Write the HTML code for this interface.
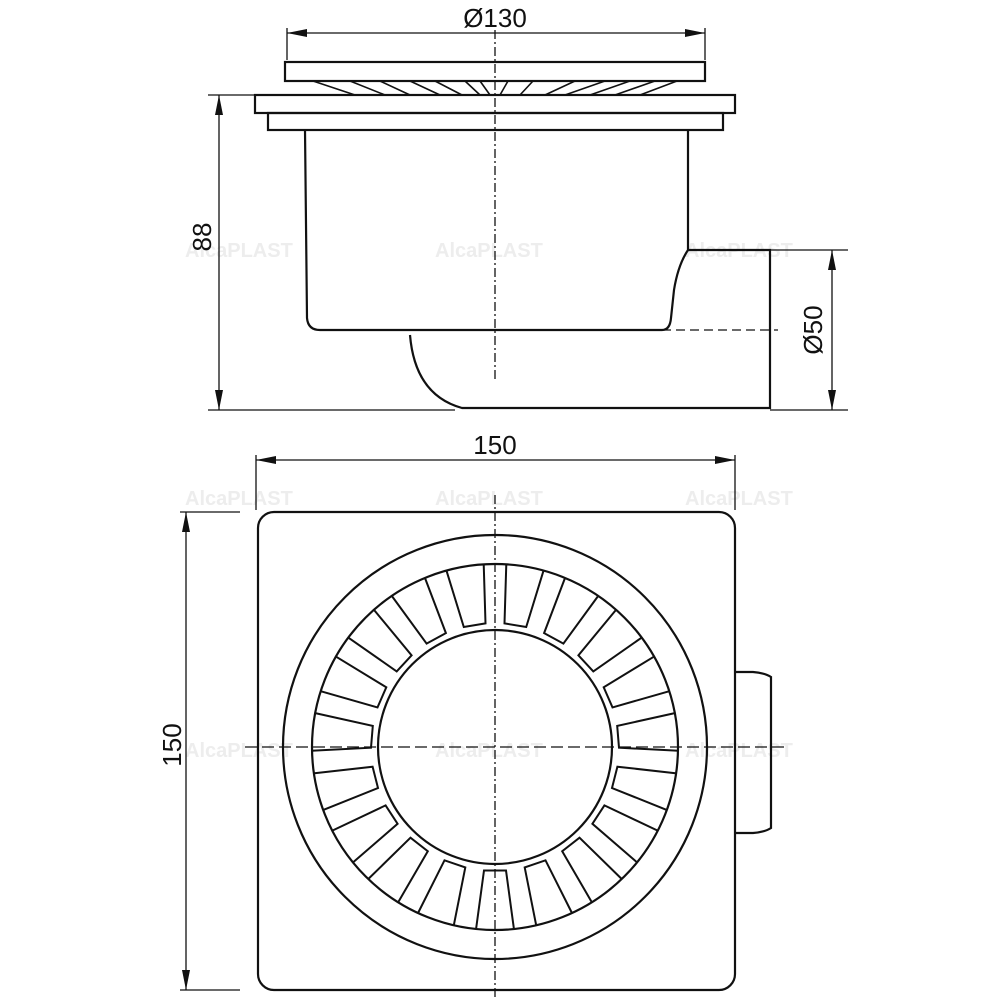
<!DOCTYPE html>
<html><head><meta charset="utf-8"><style>
html,body{margin:0;padding:0;background:#fff;}
svg{display:block;}
text{font-family:"Liberation Sans",Arial,sans-serif;fill:#111;}
text.wm{fill:#ededed;font-size:20px;font-weight:bold;}
</style></head><body>
<svg id="s" width="1000" height="1000" viewBox="0 0 1000 1000" xmlns="http://www.w3.org/2000/svg">
<defs>
<marker id="a" viewBox="0 0 20 8" refX="20" refY="4" markerWidth="20" markerHeight="8" markerUnits="userSpaceOnUse" orient="auto-start-reverse"><path d="M0,0 L20,4 L0,8 z" fill="#111"/></marker>
</defs>
<!-- watermarks -->
<text class="wm" x="185" y="257">AlcaPLAST</text><text class="wm" x="435" y="257">AlcaPLAST</text><text class="wm" x="685" y="257">AlcaPLAST</text>
<text class="wm" x="185" y="505">AlcaPLAST</text><text class="wm" x="435" y="505">AlcaPLAST</text><text class="wm" x="685" y="505">AlcaPLAST</text>
<text class="wm" x="185" y="757">AlcaPLAST</text><text class="wm" x="435" y="757">AlcaPLAST</text><text class="wm" x="685" y="757">AlcaPLAST</text>
<g fill="none" stroke="#111" stroke-width="2.2">
<!-- Ø130 -->
<line x1="287" y1="28" x2="287" y2="60" stroke-width="1.3"/>
<line x1="705" y1="28" x2="705" y2="60" stroke-width="1.3"/>
<line x1="287" y1="33" x2="705" y2="33" stroke-width="1.3" marker-start="url(#a)" marker-end="url(#a)"/>
<!-- grate plate -->
<rect x="285" y="62" width="420" height="19"/>
<!-- fins -->
<g stroke-width="1.6">
<path d="M313,81 L355,95 M640,95 L677,81"/>
<path d="M350,81 L385,95 M380,81 L410,95 M410,81 L440,95 M435,81 L462,95 M465,81 L480,95 M480,81 L490,95"/>
<path d="M500,95 L508,81 M520,95 L533,81 M545,95 L575,81 M565,95 L605,81 M590,95 L630,81 M615,95 L655,81"/>
</g>
<!-- flange -->
<rect x="255" y="95" width="480" height="18"/>
<rect x="268" y="113" width="455" height="17"/>
<!-- body -->
<path d="M305,130 L307,318 Q308,330 320,330 L662,330 Q670,330 671,318 L674,290 Q678,265 688,250 L688,130"/>
<path d="M688,250 L770,250 L770,408 L462,408 Q415,395 410,335"/>
<line x1="662" y1="330" x2="778" y2="330" stroke-width="1.3" stroke-dasharray="9,5"/>
<line x1="495" y1="30" x2="495" y2="380" stroke-width="1.3" stroke-dasharray="9,3,2,3"/>
<!-- 88 -->
<line x1="208" y1="95" x2="255" y2="95" stroke-width="1.3"/>
<line x1="208" y1="410" x2="455" y2="410" stroke-width="1.3"/>
<line x1="219" y1="95" x2="219" y2="410" stroke-width="1.3" marker-start="url(#a)" marker-end="url(#a)"/>
<!-- Ø50 -->
<line x1="770" y1="250" x2="848" y2="250" stroke-width="1.3"/>
<line x1="770" y1="410" x2="848" y2="410" stroke-width="1.3"/>
<line x1="832" y1="250" x2="832" y2="410" stroke-width="1.3" marker-start="url(#a)" marker-end="url(#a)"/>
<!-- 150 horizontal -->
<line x1="256" y1="455" x2="256" y2="510" stroke-width="1.3"/>
<line x1="735" y1="455" x2="735" y2="510" stroke-width="1.3"/>
<line x1="256" y1="460" x2="735" y2="460" stroke-width="1.3" marker-start="url(#a)" marker-end="url(#a)"/>
<!-- 150 vertical -->
<line x1="180" y1="512" x2="240" y2="512" stroke-width="1.3"/>
<line x1="180" y1="990" x2="240" y2="990" stroke-width="1.3"/>
<line x1="186" y1="512" x2="186" y2="990" stroke-width="1.3" marker-start="url(#a)" marker-end="url(#a)"/>
<!-- square -->
<rect x="258" y="512" width="477" height="478" rx="16"/>
<path d="M735,672 L753,672 Q765,673 771,677 L771,828 Q765,832 753,833 L735,833"/>
<circle cx="495" cy="747" r="212"/>
<circle cx="495" cy="747" r="183"/>
<circle cx="495" cy="747" r="117"/>
<g id="slots" stroke-width="2"></g>
<line x1="495" y1="495" x2="495" y2="1000" stroke-width="1.3" stroke-dasharray="9,3,2,3"/>
<line x1="245" y1="747" x2="785" y2="747" stroke-width="1.3" stroke-dasharray="12,5"/>
</g>
<text x="495" y="27" font-size="26" text-anchor="middle">Ø130</text>
<text x="495" y="454" font-size="26" text-anchor="middle">150</text>
<text transform="translate(211,237) rotate(-90)" font-size="26" text-anchor="middle">88</text>
<text transform="translate(822,330) rotate(-90)" font-size="26" text-anchor="middle">Ø50</text>
<text transform="translate(181,745) rotate(-90)" font-size="26" text-anchor="middle">150</text>
</svg>
<script>
(function(){
var g=document.getElementById('slots'),cx=495,cy=747,d='';
var n=19,ri=124,ro=183.5;
for(var k=0;k<n;k++){
 var th=Math.PI+k*2*Math.PI/n;
 var wi=11/ri, wo=19/ro;
 function P(r,a){var t=th+a;return [(cx+r*Math.sin(t)).toFixed(1),(cy-r*Math.cos(t)).toFixed(1)];}
 var p1=P(ro,-wo),p2=P(ri,-wi),p3=P(ri,wi),p4=P(ro,wo);
 d+='M'+p1+' L'+p2+' L'+p3+' L'+p4+' ';
}
var p=document.createElementNS('http://www.w3.org/2000/svg','path');
p.setAttribute('d',d);g.appendChild(p);
})();
</script>
</body></html>
